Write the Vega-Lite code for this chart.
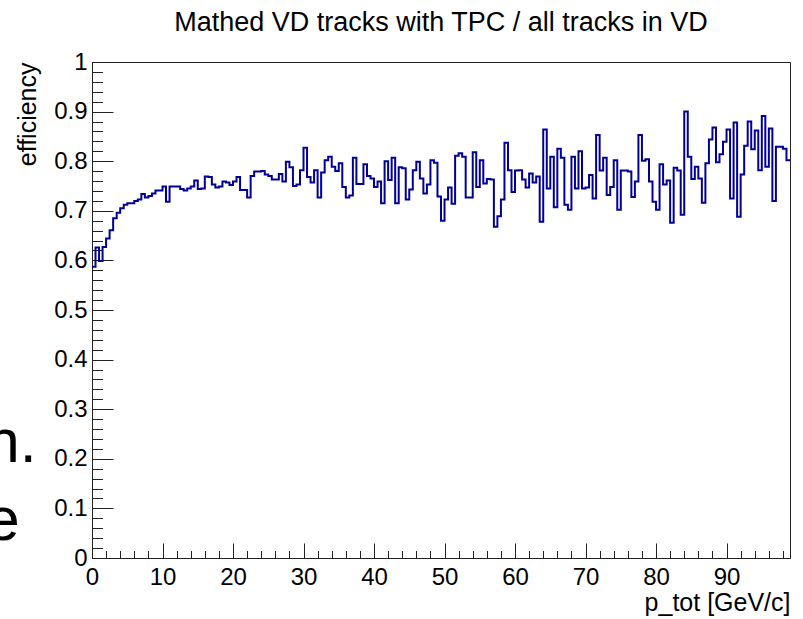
{
  "$schema": "https://vega.github.io/schema/vega-lite/v6.json",
  "width": 698,
  "height": 496,
  "autosize": "none",
  "padding": {"left": 92, "top": 62, "right": 13, "bottom": 61},
  "background": "white",
  "config": {
    "font": "Liberation Sans",
    "view": {"stroke": "#222", "strokeWidth": 1},
    "axis": {
      "grid": false,
      "domainColor": "#222",
      "tickColor": "#222",
      "labelColor": "#000",
      "titleColor": "#000",
      "labelFont": "Liberation Sans",
      "titleFont": "Liberation Sans",
      "labelFontSize": 24,
      "titleFontSize": 25,
      "titleFontWeight": "normal"
    }
  },
  "title": {
    "text": "Mathed VD tracks with TPC / all tracks in VD",
    "font": "Liberation Sans",
    "fontSize": 27,
    "fontWeight": "normal",
    "color": "#000",
    "anchor": "middle",
    "frame": "group",
    "baseline": "alphabetic",
    "offset": -8
  },
  "resolve": {"axis": {"x": "independent", "y": "independent"}},
  "datasets": {
    "hist": [
      {"p": 0, "eff": 0.587}, {"p": 0.5, "eff": 0.626}, {"p": 1, "eff": 0.599}, {"p": 1.5, "eff": 0.627},
      {"p": 2, "eff": 0.644}, {"p": 2.5, "eff": 0.661}, {"p": 3, "eff": 0.685}, {"p": 3.5, "eff": 0.696},
      {"p": 4, "eff": 0.705}, {"p": 4.5, "eff": 0.712}, {"p": 5, "eff": 0.715}, {"p": 5.5, "eff": 0.715},
      {"p": 6, "eff": 0.720}, {"p": 6.5, "eff": 0.723}, {"p": 7, "eff": 0.734}, {"p": 7.5, "eff": 0.727},
      {"p": 8, "eff": 0.730}, {"p": 8.5, "eff": 0.735}, {"p": 9, "eff": 0.741}, {"p": 9.5, "eff": 0.741},
      {"p": 10, "eff": 0.749}, {"p": 10.5, "eff": 0.718}, {"p": 11, "eff": 0.749}, {"p": 11.5, "eff": 0.749},
      {"p": 12, "eff": 0.749}, {"p": 12.5, "eff": 0.744}, {"p": 13, "eff": 0.741}, {"p": 13.5, "eff": 0.745},
      {"p": 14, "eff": 0.749}, {"p": 14.5, "eff": 0.761}, {"p": 15, "eff": 0.744}, {"p": 15.5, "eff": 0.745},
      {"p": 16, "eff": 0.769}, {"p": 16.5, "eff": 0.768}, {"p": 17, "eff": 0.753}, {"p": 17.5, "eff": 0.747},
      {"p": 18, "eff": 0.749}, {"p": 18.5, "eff": 0.759}, {"p": 19, "eff": 0.757}, {"p": 19.5, "eff": 0.752},
      {"p": 20, "eff": 0.759}, {"p": 20.5, "eff": 0.768}, {"p": 21, "eff": 0.742}, {"p": 21.5, "eff": 0.742},
      {"p": 22, "eff": 0.727}, {"p": 22.5, "eff": 0.770}, {"p": 23, "eff": 0.779}, {"p": 23.5, "eff": 0.779},
      {"p": 24, "eff": 0.780}, {"p": 24.5, "eff": 0.773}, {"p": 25, "eff": 0.770}, {"p": 25.5, "eff": 0.763},
      {"p": 26, "eff": 0.763}, {"p": 26.5, "eff": 0.774}, {"p": 27, "eff": 0.759}, {"p": 27.5, "eff": 0.799},
      {"p": 28, "eff": 0.788}, {"p": 28.5, "eff": 0.750}, {"p": 29, "eff": 0.753}, {"p": 29.5, "eff": 0.782},
      {"p": 30, "eff": 0.827}, {"p": 30.5, "eff": 0.768}, {"p": 31, "eff": 0.757}, {"p": 31.5, "eff": 0.782},
      {"p": 32, "eff": 0.727}, {"p": 32.5, "eff": 0.777}, {"p": 33, "eff": 0.802}, {"p": 33.5, "eff": 0.809},
      {"p": 34, "eff": 0.789}, {"p": 34.5, "eff": 0.780}, {"p": 35, "eff": 0.796}, {"p": 35.5, "eff": 0.748},
      {"p": 36, "eff": 0.727}, {"p": 36.5, "eff": 0.731}, {"p": 37, "eff": 0.807}, {"p": 37.5, "eff": 0.754},
      {"p": 38, "eff": 0.754}, {"p": 38.5, "eff": 0.794}, {"p": 39, "eff": 0.770}, {"p": 39.5, "eff": 0.765},
      {"p": 40, "eff": 0.748}, {"p": 40.5, "eff": 0.759}, {"p": 41, "eff": 0.715}, {"p": 41.5, "eff": 0.800},
      {"p": 42, "eff": 0.762}, {"p": 42.5, "eff": 0.807}, {"p": 43, "eff": 0.715}, {"p": 43.5, "eff": 0.788},
      {"p": 44, "eff": 0.786}, {"p": 44.5, "eff": 0.723}, {"p": 45, "eff": 0.743}, {"p": 45.5, "eff": 0.782},
      {"p": 46, "eff": 0.799}, {"p": 46.5, "eff": 0.765}, {"p": 47, "eff": 0.735}, {"p": 47.5, "eff": 0.753},
      {"p": 48, "eff": 0.802}, {"p": 48.5, "eff": 0.797}, {"p": 49, "eff": 0.729}, {"p": 49.5, "eff": 0.680},
      {"p": 50, "eff": 0.723}, {"p": 50.5, "eff": 0.747}, {"p": 51, "eff": 0.714}, {"p": 51.5, "eff": 0.811},
      {"p": 52, "eff": 0.816}, {"p": 52.5, "eff": 0.809}, {"p": 53, "eff": 0.727}, {"p": 53.5, "eff": 0.727},
      {"p": 54, "eff": 0.818}, {"p": 54.5, "eff": 0.748}, {"p": 55, "eff": 0.802}, {"p": 55.5, "eff": 0.755},
      {"p": 56, "eff": 0.764}, {"p": 56.5, "eff": 0.763}, {"p": 57, "eff": 0.668}, {"p": 57.5, "eff": 0.689},
      {"p": 58, "eff": 0.723}, {"p": 58.5, "eff": 0.837}, {"p": 59, "eff": 0.782}, {"p": 59.5, "eff": 0.738},
      {"p": 60, "eff": 0.781}, {"p": 60.5, "eff": 0.782}, {"p": 61, "eff": 0.763}, {"p": 61.5, "eff": 0.747},
      {"p": 62, "eff": 0.775}, {"p": 62.5, "eff": 0.757}, {"p": 63, "eff": 0.769}, {"p": 63.5, "eff": 0.678},
      {"p": 64, "eff": 0.864}, {"p": 64.5, "eff": 0.745}, {"p": 65, "eff": 0.809}, {"p": 65.5, "eff": 0.707},
      {"p": 66, "eff": 0.825}, {"p": 66.5, "eff": 0.807}, {"p": 67, "eff": 0.712}, {"p": 67.5, "eff": 0.702},
      {"p": 68, "eff": 0.809}, {"p": 68.5, "eff": 0.745}, {"p": 69, "eff": 0.820}, {"p": 69.5, "eff": 0.745},
      {"p": 70, "eff": 0.747}, {"p": 70.5, "eff": 0.772}, {"p": 71, "eff": 0.725}, {"p": 71.5, "eff": 0.853},
      {"p": 72, "eff": 0.781}, {"p": 72.5, "eff": 0.807}, {"p": 73, "eff": 0.732}, {"p": 73.5, "eff": 0.748},
      {"p": 74, "eff": 0.802}, {"p": 74.5, "eff": 0.702}, {"p": 75, "eff": 0.781}, {"p": 75.5, "eff": 0.781},
      {"p": 76, "eff": 0.779}, {"p": 76.5, "eff": 0.728}, {"p": 77, "eff": 0.759}, {"p": 77.5, "eff": 0.853},
      {"p": 78, "eff": 0.801}, {"p": 78.5, "eff": 0.804}, {"p": 79, "eff": 0.759}, {"p": 79.5, "eff": 0.718},
      {"p": 80, "eff": 0.702}, {"p": 80.5, "eff": 0.794}, {"p": 81, "eff": 0.753}, {"p": 81.5, "eff": 0.761},
      {"p": 82, "eff": 0.676}, {"p": 82.5, "eff": 0.787}, {"p": 83, "eff": 0.781}, {"p": 83.5, "eff": 0.692},
      {"p": 84, "eff": 0.900}, {"p": 84.5, "eff": 0.809}, {"p": 85, "eff": 0.764}, {"p": 85.5, "eff": 0.789},
      {"p": 86, "eff": 0.765}, {"p": 86.5, "eff": 0.716}, {"p": 87, "eff": 0.796}, {"p": 87.5, "eff": 0.844},
      {"p": 88, "eff": 0.868}, {"p": 88.5, "eff": 0.798}, {"p": 89, "eff": 0.814}, {"p": 89.5, "eff": 0.839},
      {"p": 90, "eff": 0.864}, {"p": 90.5, "eff": 0.725}, {"p": 91, "eff": 0.878}, {"p": 91.5, "eff": 0.688},
      {"p": 92, "eff": 0.773}, {"p": 92.5, "eff": 0.831}, {"p": 93, "eff": 0.880}, {"p": 93.5, "eff": 0.824},
      {"p": 94, "eff": 0.862}, {"p": 94.5, "eff": 0.782}, {"p": 95, "eff": 0.891}, {"p": 95.5, "eff": 0.789},
      {"p": 96, "eff": 0.866}, {"p": 96.5, "eff": 0.720}, {"p": 97, "eff": 0.829}, {"p": 97.5, "eff": 0.829},
      {"p": 98, "eff": 0.825}, {"p": 98.5, "eff": 0.802}, {"p": 99, "eff": 0.802}
    ]
  },
  "layer": [
    {
      "data": {"name": "hist"},
      "mark": {"type": "line", "interpolate": "step-after", "color": "#000099", "strokeWidth": 2, "clip": true},
      "encoding": {
        "x": {
          "field": "p",
          "type": "quantitative",
          "scale": {"domain": [0, 99], "nice": false, "zero": false},
          "axis": {
            "values": [0, 2, 4, 6, 8, 10, 12, 14, 16, 18, 20, 22, 24, 26, 28, 30, 32, 34, 36, 38, 40, 42, 44, 46, 48, 50, 52, 54, 56, 58, 60, 62, 64, 66, 68, 70, 72, 74, 76, 78, 80, 82, 84, 86, 88, 90, 92, 94, 96, 98],
            "labelExpr": "datum.value % 10 === 0 ? format(datum.value, 'd') : ''",
            "tickSize": {"condition": {"test": "datum.value % 10 === 0", "value": -15}, "value": -7.5},
            "labelPadding": 22.5,
            "labelFlush": false,
            "labelOverlap": false,
            "title": "p_tot [GeV/c]",
            "titleAnchor": "end",
            "titleAlign": "right",
            "titleBaseline": "alphabetic",
            "titleX": 698,
            "titleY": 52
          }
        },
        "y": {
          "field": "eff",
          "type": "quantitative",
          "scale": {"domain": [0, 1], "nice": false, "zero": true},
          "axis": {
            "values": [0, 0.02, 0.04, 0.06, 0.08, 0.1, 0.12, 0.14, 0.16, 0.18, 0.2, 0.22, 0.24, 0.26, 0.28, 0.3, 0.32, 0.34, 0.36, 0.38, 0.4, 0.42, 0.44, 0.46, 0.48, 0.5, 0.52, 0.54, 0.56, 0.58, 0.6, 0.62, 0.64, 0.66, 0.68, 0.7, 0.72, 0.74, 0.76, 0.78, 0.8, 0.82, 0.84, 0.86, 0.88, 0.9, 0.92, 0.94, 0.96, 0.98, 1],
            "labelExpr": "abs(datum.value * 10 - round(datum.value * 10)) < 0.001 ? format(datum.value, '.1~f') : ''",
            "tickSize": {"condition": {"test": "abs(datum.value * 10 - round(datum.value * 10)) < 0.001", "value": -21}, "value": -10.5},
            "labelPadding": 26,
            "labelFlush": false,
            "labelOverlap": false,
            "title": "efficiency",
            "titleAngle": 270,
            "titleAnchor": "end",
            "titleAlign": "right",
            "titleBaseline": "alphabetic",
            "titleX": -57,
            "titleY": 0
          }
        }
      }
    },
    {
      "data": {"values": [{"p": -7.85, "eff": 0.1935, "txt": "h."}]},
      "mark": {"type": "text", "fontSize": 61, "align": "right", "baseline": "alphabetic", "color": "#000", "font": "Liberation Sans"},
      "encoding": {
        "x": {"field": "p", "type": "quantitative", "axis": null},
        "y": {"field": "eff", "type": "quantitative", "axis": null},
        "text": {"field": "txt"}
      }
    },
    {
      "data": {"values": [{"p": -10.26, "eff": 0.0363, "txt": "e"}]},
      "mark": {"type": "text", "fontSize": 62, "align": "right", "baseline": "alphabetic", "color": "#000", "font": "Liberation Sans"},
      "encoding": {
        "x": {"field": "p", "type": "quantitative", "axis": null},
        "y": {"field": "eff", "type": "quantitative", "axis": null},
        "text": {"field": "txt"}
      }
    }
  ]
}
